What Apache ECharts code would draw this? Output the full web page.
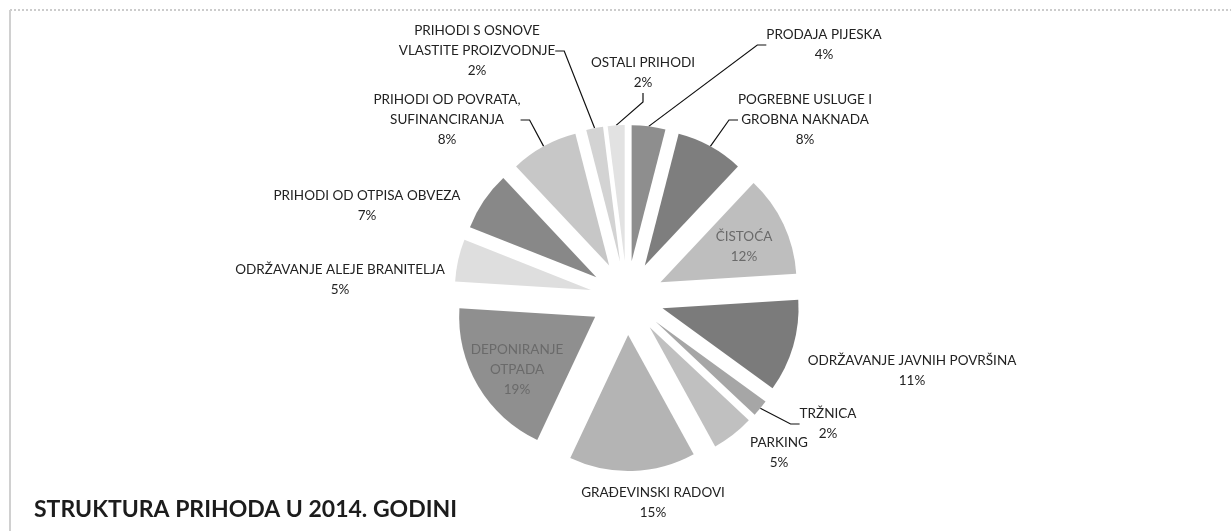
<!DOCTYPE html>
<html>
<head>
<meta charset="utf-8">
<script src="https://cdn.jsdelivr.net/npm/echarts@6/dist/echarts.min.js"></script>
<style>
  html, body { margin: 0; padding: 0; background: #fff; }
  #chart { width: 1231px; height: 531px; }
</style>
</head>
<body>
<div id="chart"></div>
<script>
// slices clockwise from 12 o'clock
const categories = [
  "PRODAJA PIJESKA",
  "POGREBNE USLUGE I\nGROBNA NAKNADA",
  "ČISTOĆA",
  "ODRŽAVANJE JAVNIH POVRŠINA",
  "TRŽNICA",
  "PARKING",
  "GRAĐEVINSKI RADOVI",
  "DEPONIRANJE\nOTPADA",
  "ODRŽAVANJE ALEJE BRANITELJA",
  "PRIHODI OD OTPISA OBVEZA",
  "PRIHODI OD POVRATA,\nSUFINANCIRANJA",
  "PRIHODI S OSNOVE\nVLASTITE PROIZVODNJE",
  "OSTALI PRIHODI"
];
const shares = [4, 8, 12, 11, 2, 5, 15, 19, 5, 7, 8, 2, 2];

const shades = [
  "#8e8e8e", "#7e7e7e", "#bebebe", "#7b7b7b", "#a6a6a6", "#c0c0c0", "#b4b4b4",
  "#8f8f8f", "#dedede", "#888888", "#c7c7c7", "#d3d3d3", "#e2e2e2"
];

// centre of each label block, and which labels get a leader line
const labelSpots = [
  [824, 45], [805, 120], [744, 247], [912, 371], [828, 424], [779, 453], [653, 503],
  [517, 370], [340, 280], [367, 206], [447, 120], [477, 51], [643, 73]
];
const withLeader = [true, true, false, false, true, false, false, false, false, false, true, true, true];
const insideText = [false, false, true, false, false, false, false, true, false, false, false, false, false];

const FONT = "Lato";
const CX = 627, CY = 298, R = 136, EXPLODE = 37;

const chart = echarts.init(document.getElementById("chart"), null, { renderer: "canvas" });

// exploded pie: one pie per slice, each shifted out along its own middle angle
const total = shares.reduce((a, b) => a + b, 0);
let before = 0;
const pieSeries = categories.map((_, i) => {
  const mid = ((before + shares[i] / 2) / total) * Math.PI * 2;
  before += shares[i];
  return {
    type: "pie",
    center: [CX + EXPLODE * Math.sin(mid), CY - EXPLODE * Math.cos(mid)],
    radius: R,
    startAngle: 90,
    clockwise: true,
    silent: true,
    avoidLabelOverlap: false,
    itemStyle: { borderWidth: 0 },
    label: {
      position: "outside",
      fontFamily: FONT,
      fontSize: 13.5,
      lineHeight: 20,
      align: "center",
      formatter: (p) => `${p.name}\n${Math.round(p.percent)}%`
    },
    labelLine: {
      length: 10,
      length2: 9,
      minTurnAngle: 20,
      lineStyle: { color: "#111", width: 1.2 }
    },
    labelLayout: (params) => {
      const spot = labelSpots[params.dataIndex];
      return { x: spot[0], y: spot[1], align: "center", verticalAlign: "middle" };
    },
    data: categories.map((name, j) => ({
      name,
      value: shares[j],
      itemStyle: { color: j === i ? shades[j] : "rgba(0,0,0,0)" },
      label: { show: j === i, color: insideText[j] ? "#6a6a6a" : "#222" },
      labelLine: { show: j === i && withLeader[j] }
    }))
  };
});

chart.setOption({
  animation: false,
  backgroundColor: "#fff",
  title: {
    text: "STRUKTURA PRIHODA U 2014. GODINI",
    left: 29,
    top: 493,
    textStyle: { fontFamily: FONT, fontWeight: "bold", fontSize: 23, color: "#1c1c1c" }
  },
  graphic: [
    {
      type: "line",
      shape: { x1: 10, y1: 10, x2: 1231, y2: 10 },
      style: { stroke: "#9a9a9a", lineWidth: 1, lineDash: [2, 2] }
    },
    {
      type: "line",
      shape: { x1: 10, y1: 10, x2: 10, y2: 531 },
      style: { stroke: "#d0d0d0", lineWidth: 2 }
    }
  ],
  series: pieSeries
});
</script>
</body>
</html>
